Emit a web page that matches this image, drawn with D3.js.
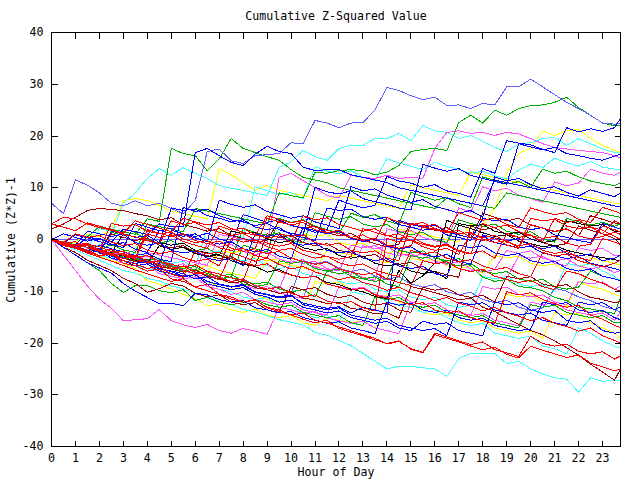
<!DOCTYPE html>
<html>
<head>
<meta charset="utf-8">
<script src="https://cdn.jsdelivr.net/npm/d3@7"></script>
<style>
  body { margin: 0; background: #fff; }
  svg { display: block; }
</style>
</head>
<body>
<script>
// half-hour samples, last one at 23:45
const hours = d3.range(0, 23.75, 0.5).concat([23.75]);
const yTicks = [-40, -30, -20, -10, 0, 10, 20, 30, 40];
const xTicks = d3.range(0, 24);

// cumulative (Z*Z)-1, one array per day
const day01 = [7,5,11.5,10.5,9,7,6.5,7.5, 6.5,7,6,5,7.5,17,17.5,15.2, 14.7,16.2,16.4,16.6,18.7,18.5,23,22.5, 21.6,22.5,22.6,25,29.4,28.8,27.8,27, 27.5,25.9,26,25.3,26.3,26,29.5,29.5, 31,29.5,28,26.5,25.3,24,22.5,22.3, 22.4];
const day02 = [0,-0.5,-1,-1.5,-2,-1,-2,-2.5, 3,2.5,2,1.5,6,5.5,5,4.5, 4,3.5,3,9,8.5,8,13,12.8, 13.3,13.5,13.3,12.5,13,14.3,17,17.4, 17.6,17.2,22.6,24,22.5,25,24,25.3, 25.9,26,26.5,27.5,25.5,24,22.5,22, 22];
const day03 = [0,-1,-1.5,0.5,0,-0.5,2,1.5, 1,3,2.5,2.5,16.8,17.6,16.2,14.9, 14.3,16.5,18,17,16.6,14,13.3,13.5, 13.5,12.5,12,11.5,11,10,9.5,9, 8.5,8,7.5,7,6.5,11.5,11,10.5, 10,9.5,9,8.5,8,7.5,7,6.5, 6.3];
const day04 = [0,-0.5,1,0.5,2.5,2,1.5,1, 4,3.5,17.6,16.6,16.2,13.3,15.6,19.5, 17.6,16.8,16,15.3,13.5,12,11.5,11, 10,9.5,9,8.5,8,7.5,7,6.5, 6,8,7.5,7,6.5,6,9,8.5, 8,7.5,7,6.5,6,5.5,5,4.5, 4.3];
const day05 = [0,-1,-1.5,-2,-1,1,7,9, 11.8,13.7,12.4,13.9,12.8,11.8,10.4,9.9, 9.5,9,8.5,13.9,15,17.2,16,15.3, 17.6,18.2,18.2,19.5,19.5,20.5,19.1,22, 21,20.7,19.5,20.1,19,17.8,17,18.5, 18.7,19.5,19.7,18.2,19.5,18.5,17.5,16.8, 16.8];
const day06 = [0,-0.5,-1,-1.5,-2,-2.5,-3,-2, -2.5,-3,-3.5,-4,-4.5,-5,1,0.5, 0,-0.5,-1,12,12.8,11.4,10,8.5, 8,12.4,12,11.8,12.4,11.8,12,11.8, 17.6,20.7,21,20.5,20.7,20.1,20.7,20.4, 19.5,18.5,17.8,17.5,17.2,17,16.8,16.2, 15.8];
const day07 = [0,-1,-1.5,-2,-2.5,-2,-3,-3.5, -4,-4.5,-5,-5.5,-6,-5,-6,-6.5, -7,-7.5,-4,-4.5,-5,-5.5,-6,-2, -2.5,-3,-3.5,-4,-4.5,2,1.5,1, 0.5,0,-0.5,3,2.5,6,12.8,16.6, 17.6,21,20.1,21,21.3,19.5,18.2,17.2, 16.8];
const day08 = [0,-1,-0.5,1,0.5,2,7.5,7.9, 7.5,6.6,5.5,5,4.5,4,13.7,12.5, 11,9.5,10.5,9.5,9,8.5,8,7.5, 8.5,8,7.5,7,6.5,6,10.5,10, 9.5,9,8.5,13,12.5,12,11.5,11, 10.5,10,9.5,9,8.5,8,7.5,7, 7];
const day09 = [0,-0.8,-1.3,-2.4,-1.9,-2.8,-3.1,-4, -4.6,-1.2,-1.9,-1.5,-2.7,-3.3,-2.9,-4.1, -4.8,-5.2,-6.3,-5.8,-6.9,-7.4,-7.1,-8.3, -8.7,-9.6,-10.1,-11,-11.4,-6,-8.5,-7, -4.6,3.7,2.8,2.1,1.3,0.6,0.9,-0.3, -0.8,-1.4,-1.1,-2.1,-2.6,-3.1,-3.5,-3.9, -4.1];
const day10 = [0,-0.7,-1.4,-1.1,-2.3,-2.9,-3.6,-3.2, -4.3,-4.7,1.8,1.1,0.6,1.2,0.1,-0.6, 4.8,4.1,3.3,3.9,2.7,2.2,1.4,1.9, 7.6,6.8,6.1,6.6,12.2,11.3,10.9,10.1, 10.6,9.4,8.9,8.2,13.7,12.8,19.1,18.6, 18.3,17.4,16.8,21.6,20.8,21.4,20.9,21.6, 23.4];
const day11 = [0,-1.2,-1.6,-0.8,-2.1,-2.7,-3.4,-2.6, -3.3,-3.9,-4.6,-4.2,-5.3,2.2,1.4,0.9, 0.3,10.2,9.4,8.7,9.1,7.9,14.1,13.2, 12.7,13.3,12.1,11.4,15.6,14.8,14.2,13.5, 14.9,14.1,13.6,12.8,13.2,12.3,11.7,13.4, 14.6,13.9,15.7,14.8,14.2,15.1,14,13.6, 13.5];
const day12 = [0,-0.9,-1.7,-2.2,-1.1,-1.8,-2.4,-3.1, -2.7,-3.8,-4.3,6.2,5.4,5.9,4.6,3.8, 3.4,2.7,3.1,1.9,1.2,0.8,10.1,9.2, 8.8,9.4,7.9,7.3,6.8,6.1,5.7,14.5, 13.8,13.2,13.7,12.4,11.8,11.2,10.7,18.5, 17.9,17.3,17.8,16.6,16.2,15.7,15.3,16.1, 16.5];
const day13 = [0,-0.8,-1.3,-2.1,-1.7,-2.9,-3.4,-4.2, -3.8,-4.9,-5.6,-5.1,-6.4,-6.9,-7.8,-7.2, -1.1,-1.8,-2.4,4.1,3.3,3.8,2.6,1.9, 1.2,5.1,4.3,4.8,3.6,2.9,9.1,8.3, 7.6,8.1,6.9,6.2,12.1,11.4,10.7,11.2, 10.1,13.6,12.8,13.2,12.1,11.3,10.8,10.4, 11];
const day14 = [0,1.1,0.4,-0.3,0.2,-0.9,-1.6,3.1, 2.4,1.7,2.2,0.9,0.3,-0.4,7.6,6.8, 6.2,6.7,5.4,4.8,4.1,4.6,3.4,2.8, 2.1,10.2,9.4,9.8,8.6,7.9,7.2,7.7, 6.4,5.8,5.1,5.6,4.3,12.1,11.3,11.8, 10.6,9.8,10.2,9.1,8.4,9.6,8.9,8.3, 9];
const day15 = [0,-0.9,-1.4,-2.2,-1.8,-3.1,-3.7,-3.3, -4.4,-5.2,-4.8,-6.1,-6.6,-7.4,-7.1,-8.2, -8.8,-9.5,-9.1,-10.3,-10.9,-11.4,-5.2,-5.9, -6.7,-6.2,-7.3,-7.9,2.1,1.4,1.8,0.4, -0.2,-0.9,6.1,5.3,10.2,9.4,9.9,8.6, 7.9,7.2,11.1,10.4,10.9,13.6,12.8,12.4, 13];
const day16 = [3,2.4,1.7,3.2,2.6,1.9,1.2,3.6, 2.9,2.2,1.5,4.1,3.4,2.8,3.3,2.1, 1.4,0.8,4.6,3.9,3.2,3.7,2.4,1.8, 1.1,0.4,0.9,-0.3,4.2,3.4,2.8,3.3, 2.1,1.4,5.2,4.4,3.7,4.2,2.9,2.3, 6.1,5.4,4.8,5.2,3.9,3.3,6.2,5.5, 5];
const day17 = [2,3,4.3,5.6,6,5.8,5.6,5, 4.6,3.8,4.2,2.9,2.3,1.6,2.1,0.8, 0.2,-0.6,-0.1,3.6,2.8,2.1,2.6,1.3, 0.7,1.2,-0.1,-0.8,-1.4,-0.9,3.2,2.4, 1.8,2.3,0.9,0.3,5.1,4.3,3.6,4.1, 2.8,2.2,1.5,2,0.7,4.6,3.9,3.2, 3];
const day18 = [3,4.3,4,3,2.3,1.8,1,0.5, -0.2,-0.8,3.6,2.9,3.3,2.1,1.4,0.8, 1.2,-0.1,-0.7,-1.3,-0.8,-2.1,-2.6,-3.3, -3.8,-3.3,2.1,1.4,0.7,1.1,-0.2,-0.9, -1.5,-1.1,-2.3,-2.8,3.1,2.3,2.8,1.5, 0.8,0.2,0.6,-0.7,-1.3,-0.9,2.6,1.9, 1.5];
const day19 = [0,-0.8,-0.4,-1.6,-2.3,-1.9,-3.1,-3.6, 1.1,0.4,0.9,-0.4,-1.1,-1.7,2.6,1.8, 2.2,0.9,0.3,0.7,-0.6,4.6,3.8,4.2, 2.9,2.3,1.6,2.1,0.8,0.2,0.6,-0.7, -1.3,-0.9,-2.1,-2.7,-2.2,-3.6,1.2,0.4, 0.9,-0.4,4.1,3.3,3.7,2.4,1.8,0.6, 0];
const day20 = [0,-0.9,-1.6,-1.2,-2.4,-3.1,-2.7,-3.9, -4.5,-4.1,-5.3,-5.9,-6.6,-6.2,-7.4,-8.1, -7.7,-8.9,-9.6,-9.2,-10.4,-11.1,-10.7,-11.9, -12.4,-12,-13.2,-13.8,0.2,-0.5,-0.1,-1.4, -2.1,-1.7,-2.9,1.2,0.4,0.8,-0.5,-1.2, -0.8,-2.1,-2.7,-2.3,-3.5,-4.1,0.2,-0.5, -1];
const day21 = [0,-0.6,1.1,0.4,0.8,-0.5,-1.2,-0.8, -2.1,-2.7,-2.3,-3.5,-4.2,-3.8,-5.1,0.2, -0.5,-0.1,-1.4,-2.1,-1.7,-2.9,-3.6,-3.2, -4.5,-5.1,-4.7,-5.9,-6.6,-7.2,-2.1,-2.8, -2.4,-3.6,-4.3,-3.9,-5.1,-5.8,-5.4,-6.6, -7.2,-2.5,-3.2,-2.8,-4.1,-4.7,-5.3,-4.6, -4];
const day22 = [0,-0.7,-1.6,-1.1,-2.3,-2.8,-3.7,-3.1, -4.2,-4.8,-5.7,-5.1,-6.3,-6.8,-7.7,-2.6, -3.3,-4.2,-3.6,-4.8,-5.7,-5.2,-6.3,-6.9, -7.8,-7.2,-8.3,-8.9,-9.8,-9.2,-10.3,-10.9, -11.8,-11.2,-12.3,-12.9,-13.8,-13.1,-14.2,-14.8, -15.7,-15.1,-16.2,-16.8,-17.7,-17.1,-18.6,-19.5, -20];
const day23 = [0,-1.1,-1.7,-2.6,-3.4,-4.2,-5,-5.9, -6.6,-7.4,-8.1,-7.6,-9.2,-9.9,-10.6,-11.5, -12.1,-11.6,-13.2,-13.9,-14.6,-15.4,-16.1,-15.6, -17.2,-17.9,-18.6,-19.4,-20.1,-19.6,-21.2,-21.9, -18.4,-19.1,-19.8,-20.6,-21.3,-20.8,-22.2,-22.9, -20.6,-21.4,-22.1,-22.8,-22.3,-23.9,-24.6,-25.4, -25];
const day24 = [0,-0.7,-1.3,-0.9,-1.4,-2.3,-2.8,-3.4, -3.1,-4.2,-4.8,-5.3,-4.9,-6.1,-6.7,-7.4, -7.9,-2.1,-2.7,-2.3,-3.6,-4.2,-4.8,-4.4, -5.7,-6.3,-6.8,-6.4,-7.6,-8.3,-8.9,-4.1, -4.7,-4.3,-5.6,-6.2,-5.8,-7.1,-7.7,-8.3, -7.9,-9.1,-9.7,-6.1,-6.6,-7.7,-8.4,-9.6, -10];
const day25 = [0,-1.2,-1.6,-2.3,-3.2,-2.8,-4.1,-4.7, -5.6,-5.2,-6.7,-7.3,-2.1,-2.8,-2.4,-3.7, -4.3,-5.1,-4.7,-6.2,-6.8,-7.4,-7.1,-8.6, -9.2,-9.8,-9.4,-10.7,-11.3,-11.9,-12.6,-12.2, -13.6,-14.2,-13.8,-15.1,-15.7,-16.2,-10.1,-10.7, -10.3,-11.6,-12.4,-13.1,-12.7,-14.6,-15.4,-16.6, -17];
const day26 = [0,-0.6,-1.2,-2.1,-1.7,-3.2,-3.6,-4.3, -3.9,-5.2,-5.7,-6.3,-5.9,-7.2,-7.6,-8.4, -8.1,-9.3,-9.7,-10.4,-10.1,-11.3,-11.7,-12.4, -12.1,-13.3,-13.6,-14.4,-14.1,-15.2,-9.1,-9.6, -10.3,-10.9,-11.7,-11.3,-13.1,-13.9,-15.2,-16.4, -17.6,-18.4,-19.6,-20.9,-22.4,-24.1,-25.6,-27.2, -25];
const day27 = [0,-0.6,-1.2,-0.8,-2.1,1.1,0.4,-0.2, 0.3,-1.1,-1.6,-1.2,-2.6,-3.1,-3.7,-3.3, -4.6,-5.2,1.1,0.4,0.8,-0.6,-1.2,-0.8, -2.1,-2.6,-3.3,-2.9,-4.2,-4.8,-4.4,-5.7, -6.2,-6.8,-7.3,2.6,1.9,2.3,0.9,0.4, 0.8,-0.6,-1.2,-0.8,2.6,1.8,1.1,0.2, -1];
const day28 = [0,-1.5,-2.5,-4,-5,-6,-7.5,-8.5, -10.2,-9.5,-8.5,-9,-10.4,-11.1,-10.7,-12.1, -12.6,-12.2,-13.6,-14.1,-9.1,-9.7,-9.3,-10.6, -11.2,-10.8,-12.1,-12.7,-12.3,-13.6,-14.1,-9.2, -9.8,-9.4,-10.7,-11.2,-10.8,-12.1,-7.1,-7.6, -7.2,-8.6,-9.1,-8.7,-10.1,-11.2,-11.6,-12.2, -12];
const day29 = [0,-0.6,-1.7,-2.1,-1.8,-3.2,-4.1,-4.6, -4.3,-5.7,-6.2,-7.1,-6.8,-8.1,-8.7,-9.2, -8.9,-10.2,-10.7,-11.3,-10.9,-12.3,-12.8,-13.3, -13,-14.2,-13.1,-13.6,-14.2,3.7,2.9,2.4, 2.8,1.4,0.9,0.3,0.7,-0.6,-1.1,-1.6, -1.3,-2.6,-3.1,-3.7,-3.3,-4.6,-5.1,-5.6, -6];
const day30 = [0,-1.5,-3,-4.5,-5.5,-6.5,-8.5,-10, -11.2,-12.4,-12.3,-12.8,-10.4,-10.7,-11.6,-12.1, -11.8,-13.2,-13.6,-14.2,-13.9,-15.1,-15.6,-16.2, -15.9,-17.1,-17.6,-18.2,-12.1,-12.7,-12.3,-13.6, -14.1,-13.7,-15.1,-15.6,-15.2,-16.6,-17.1,-17.6, -17.3,-12.1,-12.6,-12.2,-13.6,-14.1,-13.7,-15.1, -15.5];
const day31 = [0,-1.1,-1.6,-2.6,-2.2,-3.6,-4.1,-5.1, -4.7,-6.1,-6.6,-7.2,-6.8,-8.6,-9.1,-9.7, -9.3,-10.6,-11.1,-12.1,-11.7,-13.1,-13.6,-14.2, -13.8,-15.1,-15.6,-16.2,-15.8,-17.1,-17.6,-15.8, -16.4,-16.1,-17.6,-18.1,-18.6,-12.1,-12.6,-12.2, -13.6,-14.1,-13.7,-15.6,-16.1,-15.7,-17.6,-18.1, -18];
const day32 = [0,-0.6,-1.1,1.6,1.1,0.6,1,-0.6, -1.1,-0.7,-2.1,-2.6,-2.2,-3.6,-4.1,-3.7, -5.1,1.1,0.6,1,-0.6,-1.1,-0.7,-2.1, -2.6,-2.2,-3.6,-4.1,-3.7,-5.1,-5.6,-5.2, -6.6,-7.1,-1.1,-1.6,-1.2,-2.6,-3.1,-2.7, -4.1,-4.6,-4.2,-5.6,-6.1,-5.7,-7.1,-7.6, -8];
const day33 = [0,-1.1,-1.6,-1.2,-2.6,1.6,1.1,0.4, 0.8,-0.6,6.1,5.6,5.9,4.6,4.1,3.4, 3.8,2.4,1.9,2.3,0.9,0.4,-0.2,6.1, 5.6,5.9,4.4,3.9,4.3,2.9,2.4,1.8, 2.2,0.9,0.4,-0.2,4.1,3.6,3.9,2.4, 1.9,2.3,0.9,0.4,-0.2,-0.6,3.1,2.4, 2];
const day34 = [0,-3,-6,-9,-11.5,-13.3,-15.7,-15.5, -15.3,-13.5,-15.7,-16.5,-17,-16.4,-17.6,-18.1, -17.2,-17.7,-18.3,-13.1,-13.6,-14.3,-13.9,-15.2, -15.7,-16.2,-15.8,-17.1,-17.6,-18.2,-12.1,-12.6, -12.2,-13.6,-14.1,-14.7,-14.3,-15.6,-16.1,-16.7, -12.1,-12.6,-12.2,-13.6,-14.1,-14.6,-14.2,-15.6, -14];
const day35 = [0,-1,-2,-3,-4,-5,-6,-6.5, -7.5,-8,-9,-9.5,-10.5,-11,-12,-12.5, -13.5,-14,-14.7,-15.5,-16,-16.5,-18,-18.5, -19.5,-20.5,-22,-23.5,-25,-24.5,-24.5,-24.8, -25,-26.5,-23,-22,-22,-22,-24,-23.5, -25,-26,-26.7,-27,-29.5,-26.7,-27.4,-27.2, -27.2];
const day36 = [0,-1.1,-1.6,-2.6,-3.2,-4.1,-4.6,-5.6, -8,-8.6,-9.6,-10.6,-11.4,-12.8,-12.5,-13.6, -14.1,-13.4,-14.6,-15.1,-14.7,-16.1,-16.6,-15.1, -15.6,-16.1,-15.7,-17.1,-12.1,-12.6,-12.2,-14.1, -14.6,-14.2,-15.6,-16.1,-15.7,-17.1,-17.6,-18.1, -17.7,-19.1,-14.1,-14.6,-14.2,-16.1,-17.1,-18.1, -19];
const day37 = [0,-0.6,-1.1,-0.7,-2.1,-2.6,-2.2,-3.6, -4.1,-3.7,-5.1,-5.6,-5.2,-6.6,-2.1,-2.6, -2.2,-3.6,-4.1,-3.7,-5.1,1.1,0.6,1, -0.6,-1.1,-0.7,-2.1,-2.6,-2.2,-3.6,-4.1, -3.7,-5.1,-5.6,-5.2,-6.6,-3.1,-3.6,-3.2, -4.6,-5.1,-4.7,-6.1,-6.6,-3.6,-4.1,-4.6, -5];
const day38 = [0,-0.6,-1.6,-2.1,-1.7,-3.1,-4.1,-4.6, -4.2,-5.6,-6.6,-7.1,-6.7,-8.1,-9.1,-9.6, -9.2,-10.6,-11.6,-12.1,-11.7,-13.1,-8.1,-8.6, -8.2,-9.6,-10.1,-11.1,-10.7,-12.1,-12.6,-13.1, -12.7,-14.1,-14.6,-15.1,-14.7,-16.1,-10.6,-11.1, -10.7,-12.1,-12.6,-13.1,-8.1,-9.1,-9.6,-10.6, -11];
const day39 = [0,-0.6,-1.1,-0.7,-2.1,-2.6,-2.2,-3.6, -4.6,-4.2,-5.6,-6.1,-5.7,-7.1,-7.6,-7.2, -8.6,-9.1,-8.7,-4.1,-4.6,-4.2,-5.6,-6.1, -5.7,-7.1,-7.6,-7.2,-8.6,-9.1,-3.1,-3.6, -3.2,-4.6,-5.1,-4.7,-6.1,-6.6,-6.2,-7.6, -8.1,-7.7,-9.1,-9.6,-9.2,-6.1,-7.1,-7.6, -8];
const day40 = [0,-0.6,-1.1,-0.7,-2.1,-2.6,-2.2,-3.6, -4.1,-3.7,-5.1,-5.6,-5.2,-6.6,-7.1,-6.7, -8.1,-8.6,-8.2,-9.6,-10.1,-9.7,-11.1,-6.1, -6.6,-6.2,-7.6,-8.1,-7.7,-2.1,-2.6,-2.2, -3.6,-4.1,-3.7,-5.1,-7.3,-8.1,-7.7,-9.1, -9.3,-9.9,-11.2,-11.8,-13.1,-13.4,-13.9,-14.3, -11.2];
const day41 = [0,-1.5,-3,-4.5,-6,-8.5,-10.2,-8.9, -8.9,-9.9,-10.3,-9.7,-11.8,-11.2,-12.1,-12.6, -12.2,-11.6,-12.6,-13.1,-12.7,-14.1,-14.6,-15.1, -14.7,-16.1,-16.6,-11.1,-11.6,-11.2,-12.6,-13.1, -12.7,-14.1,-14.6,-15.1,-14.7,-16.1,-16.6,-17.1, -12.6,-13.1,-12.7,-14.1,-14.6,-15.1,-14.7,-16.1, -16];
const day42 = [0,-0.6,-1.1,-0.7,-2.1,-2.6,-2.2,-3.6, -4.1,-3.7,-5.1,-5.6,-5.2,-6.6,-7.1,-6.7, -8.1,-8.6,-8.2,-9.6,-4.1,-4.6,-4.2,-5.6, -6.1,-1.1,-1.6,-1.2,-2.6,-3.1,-2.7,-4.1, -4.6,-4.2,-5.6,-6.1,-5.7,-7.1,-7.6,-3.1, -3.6,-3.2,-4.6,-5.1,-1.6,-2.1,-1.7,-3.1, -3];
const day43 = [0,-1.1,-1.6,-2.6,-2.2,-3.6,-4.6,-5.1, -4.7,-6.6,-7.1,-7.6,-7.2,-9.1,-9.6,-10.6, -10.2,-11.6,-12.1,-12.6,-12.2,-13.6,-14.1,-14.6, -9.1,-9.6,-9.2,-10.6,-11.1,-10.7,-12.1,-12.6, -12.2,-13.6,-14.1,-14.6,-9.1,-9.6,-9.2,-10.6, -11.1,-10.7,-12.1,-12.6,-8.1,-8.6,-8.2,-9.6, -9];
const day44 = [0,-0.6,-1.1,-1.6,2.1,1.6,1.1,0.4, 0.8,-0.6,-1.1,-0.7,-2.1,-2.6,-2.2,-3.6, -4.1,-3.7,-5.1,-5.6,-5.2,-6.6,-7.1,-6.7, -8.1,-8.6,-8.2,-9.6,-10.1,-9.7,-11.1,-11.6, -11.2,-12.6,-13.1,-12.7,-7.1,-7.6,-7.2,-8.6, -9.1,-8.7,-10.1,-4.6,-5.1,-4.7,-6.1,-7.1, -8];
const day45 = [0,-1.1,-1.6,-2.1,-3.1,-3.6,-3.2,-5.1, -5.6,-6.1,-7.1,-7.6,-7.2,-9.1,-9.6,-10.1, -11.1,-11.6,-11.2,-13.1,-13.6,-14.1,-15.1,-14.7, -16.1,-10.1,-10.6,-10.2,-12.1,-12.6,-13.1,-14.1, -13.7,-15.1,-16.1,-16.6,-16.2,-18.1,-18.6,-19.1, -18.7,-20.6,-21.1,-22.1,-17.1,-18.1,-19.6,-20.6, -21];
const day46 = [0,-0.6,-1.1,-0.7,-2.1,-2.6,1.1,0.4, 0.8,-0.6,-1.1,-0.7,-2.1,-2.6,-3.1,1.6, 1.1,1.4,0.1,-0.6,-0.2,-1.6,-2.1,-1.7, -3.1,-3.6,-3.2,-4.6,-5.1,-4.7,-6.1,-6.6, -6.2,-7.6,3.1,2.6,2.9,1.6,1.1,1.4, 0.1,-0.6,-0.2,3.6,3.1,2.6,2.9,1.6, 1.5];
const day47 = [0,-0.6,-1.1,-0.7,-2.1,3.1,2.6,2.9, 1.6,1.1,1.4,0.1,-0.6,-0.2,-1.6,-2.1, -1.7,-3.1,-3.6,1.1,0.6,0.9,-0.6,-1.1, -0.7,-2.1,-2.6,-2.2,-3.6,-4.1,3.1,2.6, 2.9,1.6,1.1,1.4,0.1,-0.6,-0.2,-1.6, 4.1,3.6,3.9,2.6,2.1,2.4,1.1,3.6, 3];
const day48 = [0,-1.1,-1.6,-1.2,-2.6,-3.1,-4.1,-4.6, -4.2,-5.6,-6.1,-6.6,-7.6,-7.2,-8.6,-9.1, -8.7,-10.1,-10.6,-11.1,-10.7,-12.6,-13.1,-13.6, -13.2,-14.6,-15.1,-15.6,-15.2,-16.6,-17.1,-17.6, -17.2,-18.6,-12.1,-12.6,-12.2,-13.6,-14.1,-14.6, -14.2,-15.6,-16.1,-16.6,-12.1,-12.6,-12.2,-13.6, -13];
const day49 = [0,-0.6,-1.6,-2.1,-3.1,-2.7,-4.6,-5.1, -6.1,-5.7,-7.6,-8.1,-9.1,-8.7,-10.6,-11.1, -12.1,-11.7,-13.1,-13.6,-14.6,-14.2,-15.6,-16.1, -16.9,-17.6,-18.4,-19.1,-20.2,-19.7,-21.1,-21.8, -18.1,-18.8,-19.6,-20.3,-19.8,-21.3,-21.9,-22.6, -18.7,-20.1,-20.6,-20.2,-21.6,-22.1,-21.7,-23.1, -22.5];
const day50 = [0,-0.7,0.9,0.3,-0.4,-1.1,-0.6,-1.9, -2.5,1.8,1.2,0.6,1.1,-0.3,-0.9,-0.4, -1.8,-2.4,-1.9,-3.2,-3.8,2.4,1.7,1.1, 1.6,0.2,-0.4,0.1,-1.3,-1.9,-1.4,-2.8, -3.4,-2.9,-4.2,-4.8,0.9,0.3,-0.3,0.2, -1.2,-1.8,-1.3,-2.7,-3.2,-2.8,-4.1,-3.6, -3];
const day51 = [0,-0.5,-1.3,-0.8,-2.1,-2.7,-2.2,-3.5, 1.9,1.2,0.6,1.1,-0.2,-0.8,-0.3,-1.7, -2.3,-1.8,4.1,3.4,2.8,3.3,1.9,1.3, 1.8,0.4,-0.2,0.3,-1.1,-1.7,-1.2,2.6, 1.9,1.3,1.8,0.4,-0.2,0.3,-1.1,-1.7, 2.9,2.2,1.6,2.1,0.7,0.1,0.6,1.4, 1];
const day52 = [0,-0.8,-1.4,-0.9,-2.2,1.4,0.8,1.3, -0.1,-0.7,-0.2,-1.6,-2.2,-1.7,-3.1,-3.7, 2.1,1.4,0.8,1.3,-0.1,-0.7,5.2,4.5, 3.9,4.4,3,2.4,2.9,1.5,0.9,1.4, 0,-0.6,3.8,3.1,2.5,3,1.6,1, 1.5,0.1,-0.5,4.1,3.4,2.8,3.3,2.6, 3];
const day53 = [0,-0.9,-0.4,-1.7,-2.3,-1.8,-3.1,-3.7, -3.2,-4.6,-5.2,-4.7,-6.1,-0.8,-1.4,-0.9, -2.3,-2.9,-2.4,-3.8,-4.4,-3.9,-5.3,-5.9, -5.4,-6.8,-1.2,-1.8,-1.3,-2.7,-3.3,-2.8, -4.2,-4.8,-4.3,-5.7,-6.3,-5.8,-2.1,-2.7, -2.2,-3.6,-4.2,-3.7,-5.1,-5.7,-5.2,-6.4, -6];
const day54 = [0,-0.9,-1.5,-1.1,-2.4,-3,-2.6,-3.9, -4.5,-5.1,-4.6,-6,-6.6,-6.1,-7.5,-8.1, -7.6,-9,-9.6,-9.1,-10.5,-4.1,-4.7,-4.2, -5.6,-6.2,-5.7,-7.1,-7.7,-7.2,-8.6,-9.2, -8.7,-10.1,-10.7,-10.2,-11.6,-12.2,-11.7,-13.1, -13.7,-13.2,-9.4,-10,-11.1,-11.8,-12.9,-13.5, -14];

// colour groups, drawn in this order (later groups on top)
const groups = [
  ["#ffff00", [day36, day37, day38, day07, day08]],
  ["#40ffff", [day05, day11, day35, day44, day45]],
  ["#ff50ff", [day06, day15, day34, day42, day43, day53]],
  ["#00b000", [day02, day04, day13, day39, day40, day41, day52]],
  ["#6060ff", [day01, day54]],
  ["#a00000", [day17, day26, day27, day28]],
  ["#000000", [day09, day46]],
  ["#0000ff", [day03, day10, day12, day14, day29, day30, day31, day32, day33, day48, day50]],
  ["#ff0000", [day16, day18, day19, day20, day21, day22, day23, day24, day25, day47, day49, day51]]
];
const series = groups.flatMap(([color, list]) => list.map(values => ({ color, values })));

const width = 640, height = 480;
const font = '"DejaVu Sans Mono", monospace';
const fontSize = "11.6px";

const x = d3.scaleLinear().domain([0, 23.75]).range([51.5, 620.5]);
const y = d3.scaleLinear().domain([-40, 40]).range([446.5, 32.5]);

const svg = d3.select("body").append("svg")
    .attr("width", width)
    .attr("height", height)
    .style("background", "#fff");

svg.append("defs").append("clipPath").attr("id", "plot")
  .append("rect")
    .attr("x", 51).attr("y", 32)
    .attr("width", 570).attr("height", 415);

const g = svg.append("g")
    .attr("clip-path", "url(#plot)")
    .attr("fill", "none")
    .attr("stroke-width", 1)
    .attr("shape-rendering", "crispEdges");

// zero line
g.append("line")
    .attr("x1", x(0)).attr("x2", x(23.75))
    .attr("y1", y(0)).attr("y2", y(0))
    .attr("stroke", "#6060ff");

const line = d3.line()
    .x((d, i) => x(hours[i]))
    .y(d => y(d));

g.selectAll("path")
  .data(series)
  .join("path")
    .attr("d", d => line(d.values))
    .attr("stroke", d => d.color);

// axes, ticks pointing inwards on all four sides
function styleAxis(sel) {
  sel.select(".domain").remove();
  sel.selectAll("line").attr("stroke", "#000").attr("shape-rendering", "crispEdges");
  sel.selectAll("text").attr("font-family", font).attr("font-size", fontSize).attr("fill", "#000");
  sel.attr("font-family", null).attr("font-size", null);
}

svg.append("g")
    .attr("transform", `translate(0,${y(-40)})`)
    .call(d3.axisBottom(x).tickValues(xTicks).tickSizeInner(-6).tickSizeOuter(0)
      .tickPadding(7).tickFormat(d => String(d)).offset(0))
    .call(styleAxis);

svg.append("g")
    .attr("transform", `translate(0,${y(40)})`)
    .call(d3.axisTop(x).tickValues(xTicks).tickSizeInner(-6).tickSizeOuter(0)
      .tickFormat("").offset(0))
    .call(styleAxis);

svg.append("g")
    .attr("transform", `translate(${x(0)},0)`)
    .call(d3.axisLeft(y).tickValues(yTicks).tickSizeInner(-6).tickSizeOuter(0)
      .tickPadding(8).tickFormat(d => String(d)).offset(0))
    .call(styleAxis);

svg.append("g")
    .attr("transform", `translate(${x(23.75)},0)`)
    .call(d3.axisRight(y).tickValues(yTicks).tickSizeInner(-6).tickSizeOuter(0)
      .tickFormat("").offset(0))
    .call(styleAxis);

// border
svg.append("rect")
    .attr("x", x(0)).attr("y", y(40))
    .attr("width", x(23.75) - x(0))
    .attr("height", y(-40) - y(40))
    .attr("fill", "none")
    .attr("stroke", "#000")
    .attr("shape-rendering", "crispEdges");

// titles
svg.append("text")
    .attr("x", 336).attr("y", 20)
    .attr("text-anchor", "middle")
    .attr("font-family", font).attr("font-size", fontSize)
    .text("Cumulative Z-Squared Value");

svg.append("text")
    .attr("x", 336).attr("y", 476)
    .attr("text-anchor", "middle")
    .attr("font-family", font).attr("font-size", fontSize)
    .text("Hour of Day");

svg.append("text")
    .attr("transform", "translate(15,240) rotate(-90)")
    .attr("text-anchor", "middle")
    .attr("font-family", font).attr("font-size", fontSize)
    .text("Cumulative (Z*Z)-1");
</script>
</body>
</html>
